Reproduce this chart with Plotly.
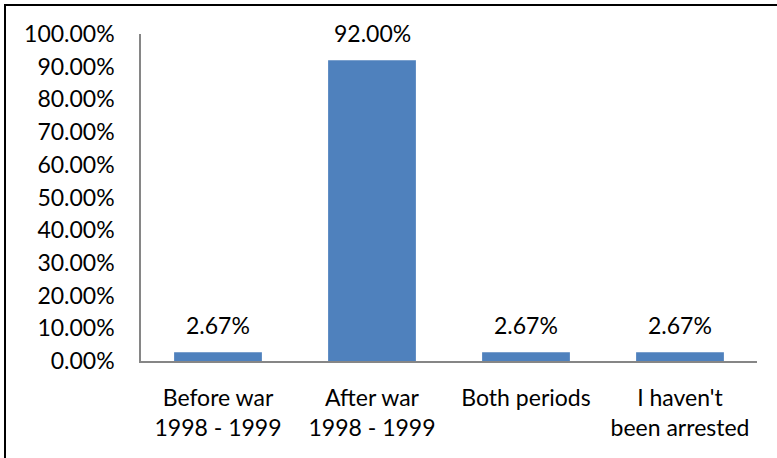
import plotly.graph_objects as go

categories = ["Before war<br>1998 - 1999", "After war<br>1998 - 1999", "Both periods", "I haven't<br>been arrested"]
values = [0.0267, 0.92, 0.0267, 0.0267]
tick_vals = [i / 10 for i in range(11)]

FONT = "Lato"
FS = 23

fig = go.Figure()
fig.add_trace(go.Bar(x=categories, y=values, marker=dict(color="#4F81BD", line=dict(width=0)),
                     hoverinfo="skip"))

for c, v in zip(categories, values):
    fig.add_annotation(x=c, y=v, text=f"{v*100:.2f}%", showarrow=False, yanchor="bottom",
                       yshift=11, font=dict(family=FONT, size=FS, color="black"))

W, H = 777, 458
L, R, T, B = 141, 20, 34, 97
pw, ph = W - L - R, H - T - B
fig.add_shape(type="rect", xref="paper", yref="paper",
              x0=(5 - L) / pw, x1=(790 - L) / pw,
              y0=(H - B - 470) / ph, y1=(H - B - 5) / ph,
              line=dict(color="black", width=2), fillcolor="rgba(0,0,0,0)", layer="above")

fig.update_layout(
    width=W, height=H, margin=dict(l=L, r=R, t=T, b=B, autoexpand=False),
    paper_bgcolor="white", plot_bgcolor="white",
    bargap=0.43, showlegend=False,
    font=dict(family=FONT, size=FS, color="black"),
)
fig.update_xaxes(showline=True, linecolor="#868686", linewidth=1.5, ticks="", showgrid=False,
                 automargin=False, ticklabelstandoff=16,
                 tickfont=dict(family=FONT, size=FS, color="black"))
fig.update_yaxes(range=[0, 1], tickvals=tick_vals, tickformat=".2%", showline=True,
                 linecolor="#868686", linewidth=1.5, ticks="", showgrid=False, zeroline=False,
                 automargin=False, ticklabelstandoff=20,
                 tickfont=dict(family=FONT, size=FS, color="black"))

fig.write_html("out.html", config={"displayModeBar": False},
               post_script="document.body.style.margin='0';document.body.style.padding='0';")
